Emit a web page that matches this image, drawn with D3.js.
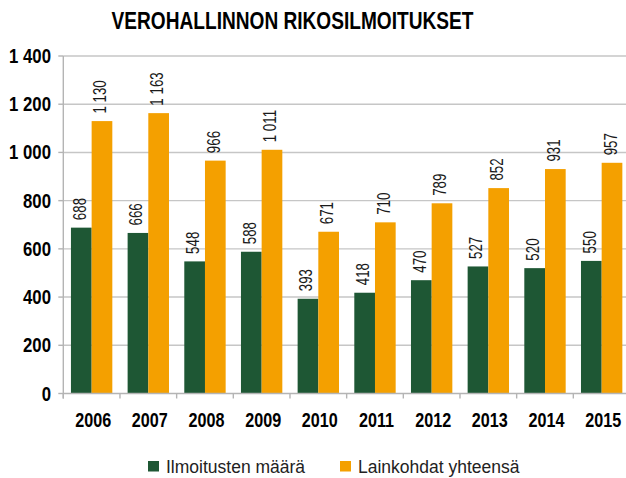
<!DOCTYPE html>
<html>
<head>
<meta charset="utf-8">
<script src="https://cdn.jsdelivr.net/npm/d3@7"></script>
<style>
  body { margin: 0; background: #fff; }
  svg text { font-family: "Liberation Sans", Arial, sans-serif; }
</style>
</head>
<body>
<svg id="chart" width="626" height="478"></svg>
<script>
// data
const years = ["2006", "2007", "2008", "2009", "2010", "2011", "2012", "2013", "2014", "2015"];
const ilmoitukset = [688, 666, 548, 588, 393, 418, 470, 527, 520, 550];
const lainkohdat = [1130, 1163, 966, 1011, 671, 710, 789, 852, 931, 957];
const seriesNames = ["Ilmoitusten määrä", "Lainkohdat yhteensä"];
const yTicks = [0, 200, 400, 600, 800, 1000, 1200, 1400];

const colors = ["#1e5734", "#f4a000"];
const fmt = v => d3.format(",")(v).replace(/,/g, " ");

const svg = d3.select("#chart");
const plotLeft = 63.3, plotRight = 630, plotTop = 56, plotBottom = 393.5;

const x = d3.scaleBand().domain(years).range([plotLeft, plotRight]).paddingInner(0.27).paddingOuter(0.135);
const xSub = d3.scaleBand().domain([0, 1]).range([0, x.bandwidth()]);
const y = d3.scaleLinear().domain([0, 1400]).range([plotBottom, plotTop]);

// condensed look: squeeze text horizontally
let squeezed = (parent, tx, ty, sx, rot) => parent.append("g")
    .attr("transform", `translate(${tx},${ty})${rot ? ` rotate(${rot})` : ""} scale(${sx},1)`)
    .append("text");

// title
squeezed(svg, 292.5, 29.3, 0.82)
    .attr("text-anchor", "middle")
    .style("font-size", "23.3px").style("font-weight", "bold")
    .text("VEROHALLINNON RIKOSILMOITUKSET");

// gridlines
svg.selectAll(".grid")
    .data(yTicks.filter(d => d > 0))
    .enter()
    .append("line")
    .attr("x1", plotLeft).attr("x2", 626)
    .attr("y1", d => y(d)).attr("y2", d => y(d))
    .style("stroke", "#c6c6c6").style("stroke-width", 1.4);

// y tick labels
yTicks.forEach(d => {
    squeezed(svg, 51, y(d) + 7, 0.86)
        .attr("text-anchor", "end")
        .style("font-size", "19.5px").style("font-weight", "bold")
        .text(fmt(d));
});

// y tick marks
svg.selectAll(".ytick")
    .data(yTicks)
    .enter()
    .append("line")
    .attr("x1", plotLeft - 5).attr("x2", plotLeft)
    .attr("y1", d => y(d)).attr("y2", d => y(d))
    .style("stroke", "#b4b4b4").style("stroke-width", 1.4);

// bars
const series = [ilmoitukset, lainkohdat];
series.forEach((vals, si) => {
    const g = svg.append("g");
    const rows = years.map((yr, i) => ({ year: yr, value: vals[i] }));
    g.selectAll("rect")
        .data(rows)
        .enter()
        .append("rect")
        .attr("x", d => x(d.year) + xSub(si))
        .attr("y", d => y(d.value))
        .attr("width", xSub.bandwidth())
        .attr("height", d => plotBottom - y(d.value))
        .style("fill", colors[si]);

    rows.forEach(d => {
        const cx = x(d.year) + xSub(si) + xSub.bandwidth() / 2;
        squeezed(g, cx + 4.5, y(d.value) - 7.5, 0.74, -90)
            .style("font-size", "18px")
            .style("fill", "#1a1a1a")
            .text(fmt(d.value));
    });
});

// axis lines and ticks
svg.append("line")
    .attr("x1", plotLeft).attr("x2", 626)
    .attr("y1", plotBottom).attr("y2", plotBottom)
    .style("stroke", "#b4b4b4").style("stroke-width", 1.4);
svg.append("line")
    .attr("x1", plotLeft).attr("x2", plotLeft)
    .attr("y1", plotTop).attr("y2", plotBottom + 5)
    .style("stroke", "#b4b4b4").style("stroke-width", 1.4);
svg.selectAll(".xtick")
    .data(years)
    .enter()
    .append("line")
    .attr("x1", d => x(d) - x.step() * x.paddingInner() / 2)
    .attr("x2", d => x(d) - x.step() * x.paddingInner() / 2)
    .attr("y1", plotBottom).attr("y2", plotBottom + 5)
    .style("stroke", "#b4b4b4").style("stroke-width", 1.4);

years.forEach(d => {
    squeezed(svg, x(d) + x.bandwidth() / 2 + 1.5, 427, 0.83)
        .attr("text-anchor", "middle")
        .style("font-size", "19.5px").style("font-weight", "bold")
        .text(d);
});

// legend
const legendX = [148, 340];
seriesNames.forEach((name, i) => {
    svg.append("rect")
        .attr("x", legendX[i]).attr("y", 461)
        .attr("width", 11).attr("height", 10.5)
        .style("fill", colors[i]);
    svg.append("text")
        .attr("x", legendX[i] + 18).attr("y", 473)
        .style("font-size", "17.5px")
        .style("fill", "#222")
        .text(name);
});
</script>
</body>
</html>
